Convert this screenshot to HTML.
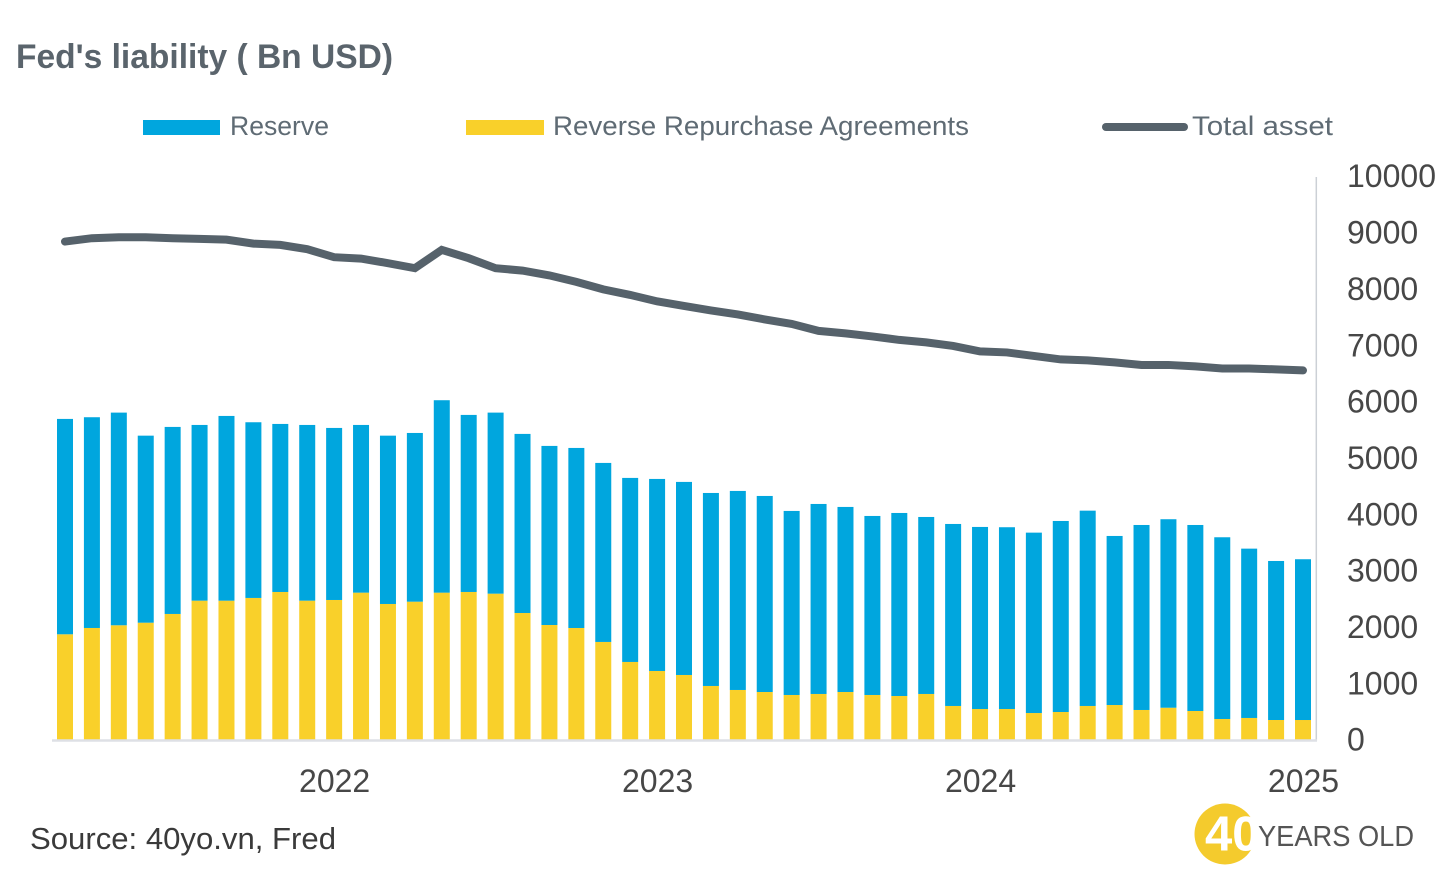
<!DOCTYPE html>
<html lang="en">
<head>
<meta charset="utf-8">
<title>Fed's liability</title>
<style>
html,body{margin:0;padding:0;background:#fff;width:1456px;height:874px;overflow:hidden}
svg{display:block;font-family:"Liberation Sans",Arial,sans-serif}
</style>
</head>
<body>
<svg id="chart" width="1456" height="874" viewBox="0 0 1456 874" xmlns="http://www.w3.org/2000/svg">
  <rect width="1456" height="874" fill="#ffffff"/>
  <text x="16" y="68" font-size="34.5" font-weight="700" fill="#5a646c" textLength="377" lengthAdjust="spacingAndGlyphs">Fed's liability ( Bn USD)</text>

  <g>
    <g>
      <rect x="143" y="120" width="77" height="15" fill="#00a6de"/>
      <text x="230" y="135" font-size="27" fill="#5f6b74" textLength="99" lengthAdjust="spacingAndGlyphs">Reserve</text>
    </g>
    <g>
      <rect x="466" y="120" width="78" height="15" fill="#f9d02a"/>
      <text x="553" y="135" font-size="27" fill="#5f6b74" textLength="416" lengthAdjust="spacingAndGlyphs">Reverse Repurchase Agreements</text>
    </g>
    <g>
      <line x1="1106" y1="127" x2="1184" y2="127" stroke="#56626b" stroke-width="8" stroke-linecap="round"/>
      <text x="1192" y="135" font-size="27" fill="#5f6b74" textLength="141" lengthAdjust="spacingAndGlyphs">Total asset</text>
    </g>
  </g>

  <g id="bars"></g>
  <path id="total-line" fill="none" stroke="#56626b" stroke-width="8" stroke-linecap="round" stroke-linejoin="miter"/>
  <line x1="1316.3" y1="177" x2="1316.3" y2="741" stroke="#ccd0d6" stroke-width="1.5"/>
  <line x1="52" y1="740.5" x2="1317" y2="740.5" stroke="#dee0e5" stroke-width="2.5"/>
  <g id="y-ticks"></g>
  <g id="x-ticks"></g>

  <text x="30" y="849" font-size="31" fill="#3a3a3a" textLength="306" lengthAdjust="spacingAndGlyphs">Source: 40yo.vn, Fred</text>
  <g>
    <circle cx="1225" cy="834" r="30.5" fill="#f4cb2d"/>
    <text x="1205" y="850.5" font-size="49" font-weight="700" fill="#ffffff">40</text>
    <text x="1258" y="846" font-size="29" fill="#555555" textLength="156" lengthAdjust="spacingAndGlyphs">YEARS OLD</text>
  </g>
</svg>
<script>
const categories = ["2021-03","2021-04","2021-05","2021-06","2021-07","2021-08","2021-09","2021-10","2021-11","2021-12","2022-01","2022-02","2022-03","2022-04","2022-05","2022-06","2022-07","2022-08","2022-09","2022-10","2022-11","2022-12","2023-01","2023-02","2023-03","2023-04","2023-05","2023-06","2023-07","2023-08","2023-09","2023-10","2023-11","2023-12","2024-01","2024-02","2024-03","2024-04","2024-05","2024-06","2024-07","2024-08","2024-09","2024-10","2024-11","2024-12","2025-01"];
const rrpValues = [1867,1979,2027,2073,2228,2464,2464,2512,2618,2464,2476,2606,2405,2446,2606,2618,2588,2245,2032,1979,1731,1376,1216,1145,950,879,843,790,808,843,790,772,808,595,541,541,470,488,595,612,524,564,506,364,382,346,346];
const reserveValues = [3822,3740,3774,3319,3319,3118,3278,3118,2982,3118,3053,2976,2987,2994,3415,3142,3213,3178,3178,3195,3177,3266,3408,3426,3425,3532,3479,3266,3372,3284,3177,3248,3141,3230,3231,3226,3201,3390,3466,3000,3283,3345,3301,3225,3005,2822,2853];
const totalAssetValues = [8836,8896,8914,8914,8896,8884,8871,8800,8777,8701,8559,8534,8453,8364,8689,8541,8364,8321,8236,8121,7988,7890,7775,7695,7615,7544,7455,7375,7251,7207,7153,7091,7047,6985,6887,6869,6807,6745,6727,6692,6647,6647,6621,6585,6585,6568,6550];
const yTickValues = [0,1000,2000,3000,4000,5000,6000,7000,8000,9000,10000];

const NS = "http://www.w3.org/2000/svg";
const xOf = i => 65 + i * (1303 - 65) / (categories.length - 1);
const yOf = v => 739.5 - v * 563.5 / 10000;
const BAR_W = 16;

const barsG = document.getElementById("bars");
function addRect(i, base, val, color, name) {
  const r = document.createElementNS(NS, "rect");
  r.setAttribute("x", (xOf(i) - BAR_W / 2).toFixed(2));
  r.setAttribute("y", yOf(base + val).toFixed(2));
  r.setAttribute("width", BAR_W);
  r.setAttribute("height", (yOf(base) - yOf(base + val)).toFixed(2));
  r.setAttribute("fill", color);
  
  
  barsG.appendChild(r);
}
categories.forEach((c, i) => {
  addRect(i, 0, rrpValues[i], "#f9d02a", "bar-rrp-" + c);
  addRect(i, rrpValues[i], reserveValues[i], "#00a6de", "bar-reserve-" + c);
});

const line = document.getElementById("total-line");
line.setAttribute("d", totalAssetValues.map((v, i) => (i ? "L" : "M") + xOf(i).toFixed(2) + " " + yOf(v).toFixed(2)).join(""));

const yG = document.getElementById("y-ticks");
yTickValues.forEach(v => {
  const t = document.createElementNS(NS, "text");
  t.setAttribute("x", 1347);
  t.setAttribute("y", (yOf(v) + 11.2).toFixed(2));
  t.setAttribute("font-size", "32");
  t.setAttribute("fill", "#474747");
  
  
  t.textContent = v;
  yG.appendChild(t);
});

const xG = document.getElementById("x-ticks");
categories.forEach((c, i) => {
  if (!c.endsWith("-01")) return;
  const t = document.createElementNS(NS, "text");
  t.setAttribute("x", (xOf(i) + 0.5).toFixed(2));
  t.setAttribute("y", 792);
  t.setAttribute("text-anchor", "middle");
  t.setAttribute("font-size", "32");
  t.setAttribute("fill", "#474747");
  
  
  t.textContent = c.slice(0, 4);
  xG.appendChild(t);
});
</script>
</body>
</html>
